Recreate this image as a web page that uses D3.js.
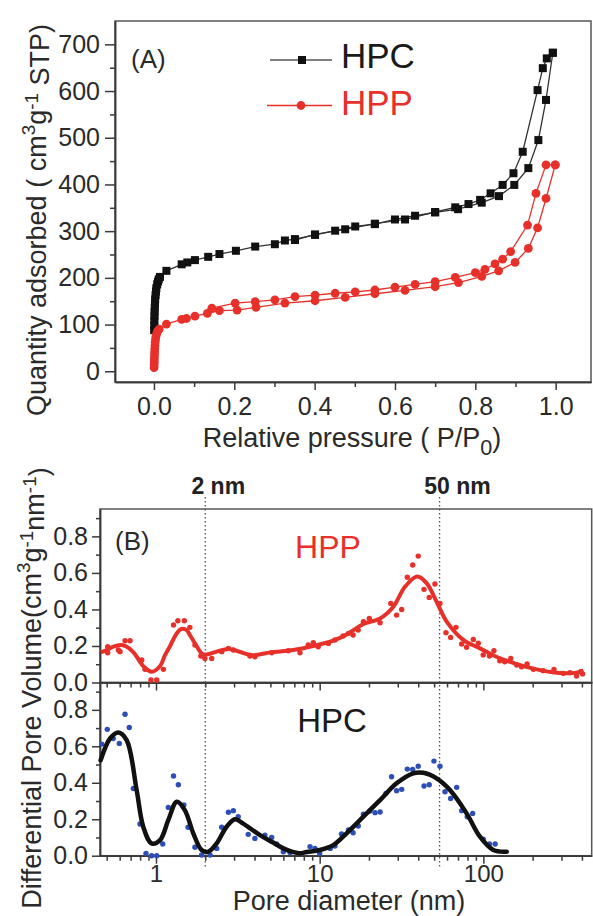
<!DOCTYPE html>
<html lang="en">

<head>
    <meta charset="UTF-8">
    <script src="https://d3js.org/d3.v7.min.js"></script>
    <title>Isotherms and pore size distribution</title>
    <style>
        body { margin: 0; background: #fff; }
        svg { font-family: "Liberation Sans", Arial, sans-serif; }
        .axis path, .axis line { stroke: #3a3a3a; stroke-width: 1.5; }
        .axis text { font-size: 25px; fill: #2a2a2a; }
        .axis.bottom-b text { font-size: 24px; }
        .frame { fill: none; stroke: #555; stroke-width: 1.5; }
        .label { font-size: 27px; fill: #2a2a2a; }
    </style>
</head>

<body>
    <div id="chart"></div>
    <script>
        // Panel A: N2 isotherms (relative pressure, quantity adsorbed)
        const hpcAdsP = [0.0005, 0.0008, 0.001, 0.0013, 0.0016, 0.002, 0.0025, 0.003, 0.004, 0.005, 0.006, 0.008, 0.010, 0.012,
            0.015, 0.031, 0.069, 0.083, 0.102, 0.135, 0.163, 0.204, 0.252, 0.301, 0.326, 0.351, 0.401, 0.451, 0.501, 0.550,
            0.600, 0.650, 0.700, 0.757, 0.816, 0.859, 0.897, 0.932, 0.957, 0.976, 0.993];
        const hpcAdsV = [88, 98, 108, 118, 127, 136, 145, 154, 163, 171, 178, 186, 192, 197,
            202, 215, 229, 233, 238, 245, 251, 258, 267, 272, 280, 283, 292, 301, 310, 315,
            325, 333, 340, 347, 361, 375, 399, 435, 495, 581, 682];
        const hpcDesP = [0.993, 0.978, 0.968, 0.955, 0.918, 0.895, 0.868, 0.838, 0.812, 0.783, 0.750, 0.700, 0.625, 0.550, 0.476, 0.401, 0.351];
        const hpcDesV = [682, 670, 649, 602, 470, 424, 399, 381, 367, 358, 351, 341, 325, 316, 304, 293, 281];

        const hppAdsP = [0.0003, 0.0005, 0.0008, 0.001, 0.0013, 0.0016, 0.002, 0.0025, 0.003, 0.004, 0.005, 0.007, 0.009,
            0.013, 0.031, 0.069, 0.081, 0.102, 0.133, 0.163, 0.207, 0.254, 0.326, 0.401, 0.476, 0.550, 0.625, 0.700,
            0.758, 0.816, 0.858, 0.899, 0.932, 0.955, 0.976, 0.999];
        const hppAdsV = [8, 14, 20, 27, 34, 41, 48, 55, 62, 69, 75, 81, 86,
            90, 101, 111, 113, 118, 124, 130, 131, 137, 146, 151, 158, 166, 173, 181,
            190, 203, 215, 233, 263, 307, 370, 442];
        const hppDesP = [0.999, 0.976, 0.951, 0.930, 0.888, 0.868, 0.849, 0.824, 0.800, 0.750, 0.700, 0.650, 0.600, 0.550,
            0.501, 0.451, 0.401, 0.351, 0.301, 0.252, 0.202, 0.144];
        const hppDesV = [442, 442, 381, 313, 256, 240, 230, 218, 211, 201, 192, 186, 180, 174,
            170, 167, 163, 160, 153, 149, 146, 135];

        const aXTicks = [0, 0.2, 0.4, 0.6, 0.8, 1.0];
        const aXMinor = [0.1, 0.3, 0.5, 0.7, 0.9];
        const aYTicks = [0, 100, 200, 300, 400, 500, 600, 700];
        const aYMinor = [50, 150, 250, 350, 450, 550, 650];

        // Panel B: pore size distribution (pore diameter nm, dV)
        const hppFitD = [0.46, 0.507, 0.548, 0.617, 0.68, 0.744, 0.836, 0.94, 1.06, 1.135, 1.22, 1.32, 1.42, 1.54, 1.61, 1.73,
            1.90, 2.04, 2.35, 2.77, 3.2, 3.84, 5.0, 6.9, 9.14, 12.1, 14.6, 18.5, 23.4, 28.2, 33.2, 39.4, 45.1, 51.8, 59.7,
            75.4, 95.3, 120, 160, 212, 280, 371, 408];
        const hppFitV = [0.165, 0.18, 0.196, 0.205, 0.19, 0.155, 0.09, 0.059, 0.09, 0.15, 0.2, 0.26, 0.292, 0.287, 0.26, 0.215,
            0.16, 0.153, 0.169, 0.184, 0.17, 0.15, 0.165, 0.178, 0.2, 0.229, 0.263, 0.32, 0.351, 0.415, 0.524, 0.58, 0.543, 0.442, 0.333,
            0.233, 0.187, 0.141, 0.101, 0.072, 0.054, 0.054, 0.065];
        const hppDotD = [0.507, 0.507, 0.589, 0.603, 0.647, 0.694, 0.818, 0.857, 0.932, 1.01, 1.11, 1.28, 1.36, 1.49, 1.61,
            1.73, 1.88, 1.99, 2.19, 2.52, 2.77, 2.97, 3.75, 4.02, 5.09, 6.43, 7.58, 8.52, 9.14, 9.8, 11.3, 12.4, 13.9, 15.0, 16.0,
            17.2, 18.5, 20.1, 23.4, 27.2, 29.5, 31.7, 34.3, 37.0, 40.0, 43.4, 46.7, 50.6, 54.3, 59.1, 63.1, 68.0, 73.7, 79.0, 86.8,
            93.1, 99.8, 109, 116, 126, 135, 147, 160, 171, 185, 202, 232, 270, 308, 338, 371, 393, 404];
        const hppDotV = [0.196, 0.163, 0.178, 0.169, 0.229, 0.229, 0.123, 0.072, 0.014, 0.014, 0.072, 0.315, 0.338, 0.338, 0.302,
            0.205, 0.145, 0.132, 0.132, 0.169, 0.187, 0.178, 0.145, 0.141, 0.163, 0.174, 0.163, 0.205, 0.218, 0.196, 0.214, 0.233, 0.255, 0.269, 0.26,
            0.287, 0.333, 0.351, 0.327, 0.433, 0.369, 0.4, 0.576, 0.643, 0.692, 0.51, 0.466, 0.539, 0.433, 0.273, 0.247, 0.302, 0.211, 0.193, 0.236,
            0.215, 0.151, 0.145, 0.174, 0.119, 0.114, 0.132, 0.096, 0.086, 0.101, 0.072, 0.065, 0.072, 0.05, 0.054, 0.036, 0.059, 0.047];

        const hpcFitD = [0.459, 0.524, 0.589, 0.662, 0.762, 0.836, 0.94, 1.06, 1.19, 1.34, 1.50, 1.69, 1.90, 2.09, 2.35, 2.70,
            3.04, 3.41, 4.32, 5.2, 6.0, 6.9, 7.58, 8.33, 10, 12.1, 14.6, 18.5, 23.4, 29.5, 37.3, 43, 51.8, 62.5, 79, 95.3, 115, 139];
        const hpcFitV = [0.524, 0.643, 0.676, 0.634, 0.36, 0.159, 0.068, 0.086, 0.196, 0.296, 0.25, 0.123, 0.031, 0.022, 0.068, 0.159,
            0.2, 0.176, 0.113, 0.072, 0.04, 0.02, 0.013, 0.02, 0.031, 0.058, 0.123, 0.214, 0.305, 0.397, 0.452, 0.455, 0.424, 0.36, 0.232, 0.104, 0.031, 0.022];
        const hpcDotD = [0.466, 0.504, 0.548, 0.597, 0.647, 0.687, 0.727, 0.798, 0.869, 0.94, 1.01, 1.10, 1.19, 1.28, 1.37,
            1.48, 1.57, 1.73, 1.90, 2.14, 2.35, 2.52, 2.77, 2.97, 3.18, 3.66, 4.02, 4.63, 5.09, 5.46, 6.0, 6.59, 8.73, 9.36, 10,
            11.6, 12.4, 13.6, 15.0, 16.0, 17.2, 18.5, 20.3, 21.8, 23.4, 25.4, 27.5, 29.5, 31.7, 34.3, 37.0, 40.0, 43.4, 46.7, 49.9,
            54.3, 58.3, 63.1, 68.7, 73.7, 79.7, 86.0, 99.8, 109, 118];
        const hpcDotV = [0.612, 0.693, 0.643, 0.616, 0.776, 0.703, 0.369, 0.174, 0.013, 0, 0, 0.064, 0.265, 0.437, 0.389,
            0.278, 0.156, 0.046, 0.004, 0.004, 0.04, 0.156, 0.238, 0.247, 0.214, 0.117, 0.095, 0.113, 0.1, 0.064, 0.022, 0.017, 0.05, 0.04, 0.013,
            0.04, 0.053, 0.119, 0.141, 0.126, 0.163, 0.227, 0.245, 0.236, 0.24, 0.342, 0.433, 0.356, 0.364, 0.475, 0.473, 0.491, 0.382, 0.389, 0.519,
            0.491, 0.351, 0.314, 0.375, 0.247, 0.214, 0.232, 0.09, 0.064, 0.064];

        const bYTicks = [0, 0.2, 0.4, 0.6, 0.8];
        const bYMinor = [0.1, 0.3, 0.5, 0.7, 0.9];
        const bXTicks = [1, 10, 100];
        const bXMinor = [0.5, 0.6, 0.7, 0.8, 0.9, 2, 3, 4, 5, 6, 7, 8, 9, 20, 30, 40, 50, 60, 70, 80, 90, 200, 300, 400];
        const markD = [2, 54];
        const markText = ["2 nm", "50 nm"];

        const red = "#e8302a";
        const zip = (xs, ys) => xs.map((x, i) => [x, ys[i]]);

        // Draw canvas
        const width = 593;
        const height = 916;
        const svg = d3.select("#chart")
            .append("svg")
            .attr("width", width)
            .attr("height", height);

        // ---------- Panel A ----------
        const xA = d3.scaleLinear().domain([-0.097, 1.088]).range([115, 591]);
        const yA = d3.scaleLinear().domain([-23, 750]).range([382, 21]);

        svg.append("rect").attr("class", "frame")
            .attr("x", 115).attr("y", 21)
            .attr("width", 591 - 115).attr("height", 382 - 21);

        svg.append("g").attr("class", "axis").attr("transform", "translate(115,0)")
            .call(d3.axisLeft(yA).tickValues(aYTicks).tickSize(10).tickPadding(5).tickSizeOuter(0).tickFormat(d3.format("d")));
        svg.append("g").attr("class", "axis").attr("transform", "translate(115,0)")
            .call(d3.axisLeft(yA).tickValues(aYMinor).tickSize(5).tickSizeOuter(0).tickFormat(""));
        svg.append("g").attr("class", "axis").attr("transform", "translate(0,382)")
            .call(d3.axisBottom(xA).tickValues(aXTicks).tickSize(8).tickPadding(7).tickSizeOuter(0).tickFormat(d3.format(".1f")));
        svg.append("g").attr("class", "axis").attr("transform", "translate(0,382)")
            .call(d3.axisBottom(xA).tickValues(aXMinor).tickSize(5).tickSizeOuter(0).tickFormat(""));

        const lineA = d3.line().x(d => xA(d[0])).y(d => yA(d[1]));

        function drawIsotherm(branches, color, lineColor, shape) {
            branches.forEach(pts => {
                svg.append("path")
                    .attr("d", lineA(pts))
                    .attr("fill", "none")
                    .attr("stroke", lineColor)
                    .attr("stroke-width", 1.3);
            });
            branches.forEach(pts => {
                if (shape === "square") {
                    svg.append("g").selectAll("rect").data(pts).enter().append("rect")
                        .attr("x", d => xA(d[0]) - 4).attr("y", d => yA(d[1]) - 4)
                        .attr("width", 8).attr("height", 8).attr("fill", color);
                } else {
                    svg.append("g").selectAll("circle").data(pts).enter().append("circle")
                        .attr("cx", d => xA(d[0])).attr("cy", d => yA(d[1]))
                        .attr("r", 4.4).attr("fill", color);
                }
            });
        }
        drawIsotherm([zip(hpcAdsP, hpcAdsV), zip(hpcDesP, hpcDesV)], "#111", "#333", "square");
        drawIsotherm([zip(hppAdsP, hppAdsV), zip(hppDesP, hppDesV)], red, red, "circle");

        // Legend
        svg.append("line").attr("x1", 270).attr("x2", 332).attr("y1", 60).attr("y2", 60)
            .attr("stroke", "#555").attr("stroke-width", 1.3);
        svg.append("rect").attr("x", 298).attr("y", 56).attr("width", 8).attr("height", 8).attr("fill", "#111");
        svg.append("text").attr("x", 341).attr("y", 68).attr("font-size", 35).attr("fill", "#1a1a1a").text("HPC");
        svg.append("line").attr("x1", 267).attr("x2", 332).attr("y1", 105.5).attr("y2", 105.5)
            .attr("stroke", red).attr("stroke-width", 1.3);
        svg.append("circle").attr("cx", 301).attr("cy", 105.5).attr("r", 4.4).attr("fill", red);
        svg.append("text").attr("x", 341).attr("y", 115).attr("font-size", 35).attr("fill", red).text("HPP");

        svg.append("text").attr("x", 131).attr("y", 68).attr("font-size", 26).attr("fill", "#2a2a2a").text("(A)");

        // Axis titles A
        svg.append("text").attr("class", "label")
            .attr("transform", "translate(46,220) rotate(-90)")
            .attr("text-anchor", "middle").attr("font-size", 28.5)
            .html(`Quantity adsorbed ( cm<tspan font-size="0.7em" dy="-0.6em">3</tspan><tspan dy="0.42em">g</tspan><tspan font-size="0.7em" dy="-0.42em">-1</tspan><tspan dy="0.42em"> STP)</tspan>`);
        svg.append("text").attr("class", "label")
            .attr("x", 352).attr("y", 447)
            .attr("text-anchor", "middle")
            .html(`Relative pressure ( P/P<tspan font-size="0.8em" dy="0.35em">0</tspan><tspan dy="-0.28em">)</tspan>`);

        // ---------- Panel B ----------
        const xB = d3.scaleLog().domain([0.455, 459]).range([100, 591.7]);
        const yTop = d3.scaleLinear().domain([0, 0.95]).range([682.5, 509]);
        const yBot = d3.scaleLinear().domain([0, 0.95]).range([855.7, 682.5]);

        svg.append("rect").attr("class", "frame")
            .attr("x", 100).attr("y", 509).attr("width", 491.7).attr("height", 682.5 - 509);
        svg.append("rect").attr("class", "frame")
            .attr("x", 100).attr("y", 682.5).attr("width", 491.7).attr("height", 855.7 - 682.5);

        [[yTop, 682.5], [yBot, 855.7]].forEach(([ys, base], i) => {
            svg.append("g").attr("class", "axis").attr("transform", "translate(100,0)")
                .call(d3.axisLeft(ys).tickValues(bYTicks).tickSize(8).tickPadding(4).tickSizeOuter(0).tickFormat(d3.format(".1f")));
            svg.append("g").attr("class", "axis").attr("transform", "translate(100,0)")
                .call(d3.axisLeft(ys).tickValues(bYMinor).tickSize(4).tickSizeOuter(0).tickFormat(""));
            svg.append("g").attr("class", "axis bottom-b").attr("transform", `translate(0,${base})`)
                .call(d3.axisBottom(xB).tickValues(bXTicks).tickSize(8).tickPadding(1).tickSizeOuter(0)
                    .tickFormat(i === 1 ? d3.format("d") : ""));
            svg.append("g").attr("class", "axis").attr("transform", `translate(0,${base})`)
                .call(d3.axisBottom(xB).tickValues(bXMinor).tickSize(5).tickSizeOuter(0).tickFormat(""));
        });

        // Dotted guide lines at 2 nm and 50 nm
        svg.append("g").selectAll("line").data(markD).enter().append("line")
            .attr("x1", d => xB(d)).attr("x2", d => xB(d))
            .attr("y1", 497).attr("y2", 868)
            .attr("stroke", "#555").attr("stroke-width", 1.3).attr("stroke-dasharray", "1.5,2.5");
        svg.append("g").selectAll("text").data(markD).enter().append("text")
            .attr("x", (d, i) => xB(d) + (i === 0 ? 13 : 18)).attr("y", 494)
            .attr("text-anchor", "middle").attr("font-size", 23).attr("font-weight", "bold").attr("fill", "#222")
            .text((d, i) => markText[i]);

        const curve = d3.curveCatmullRom.alpha(0.5);
        const lineTop = d3.line().x(d => xB(d[0])).y(d => yTop(d[1])).curve(curve);
        const lineBot = d3.line().x(d => xB(d[0])).y(d => yBot(d[1])).curve(curve);

        svg.append("g").selectAll("circle").data(zip(hppDotD, hppDotV)).enter().append("circle")
            .attr("cx", d => xB(d[0])).attr("cy", d => yTop(d[1])).attr("r", 2.7).attr("fill", red);
        svg.append("path").attr("d", lineTop(zip(hppFitD, hppFitV)))
            .attr("fill", "none").attr("stroke", red).attr("stroke-width", 4).attr("stroke-linejoin", "round");

        svg.append("g").selectAll("circle").data(zip(hpcDotD, hpcDotV)).enter().append("circle")
            .attr("cx", d => xB(d[0])).attr("cy", d => yBot(d[1])).attr("r", 2.7).attr("fill", "#2d4fb5");
        svg.append("path").attr("d", lineBot(zip(hpcFitD, hpcFitV)))
            .attr("fill", "none").attr("stroke", "#111").attr("stroke-width", 4.5).attr("stroke-linejoin", "round")
            .attr("stroke-linecap", "round");

        svg.append("text").attr("x", 115).attr("y", 550).attr("font-size", 26).attr("fill", "#2a2a2a").text("(B)");
        svg.append("text").attr("x", 328).attr("y", 558).attr("text-anchor", "middle")
            .attr("font-size", 32).attr("fill", red).text("HPP");
        svg.append("text").attr("x", 332).attr("y", 732).attr("text-anchor", "middle")
            .attr("font-size", 33).attr("fill", "#1a1a1a").text("HPC");

        // Axis titles B
        svg.append("text").attr("class", "label")
            .attr("transform", "translate(41,688) rotate(-90)")
            .attr("text-anchor", "middle").attr("font-size", 26)
            .html(`Differential Pore Volume(cm<tspan font-size="0.7em" dy="-0.6em">3</tspan><tspan dy="0.42em">g</tspan><tspan font-size="0.7em" dy="-0.42em">-1</tspan><tspan dy="0.42em">nm</tspan><tspan font-size="0.7em" dy="-0.42em">-1</tspan><tspan dy="0.42em">)</tspan>`);
        svg.append("text").attr("class", "label")
            .attr("x", 349).attr("y", 910)
            .attr("text-anchor", "middle").attr("font-size", 25)
            .text("Pore diameter (nm)");
    </script>
</body>

</html>
